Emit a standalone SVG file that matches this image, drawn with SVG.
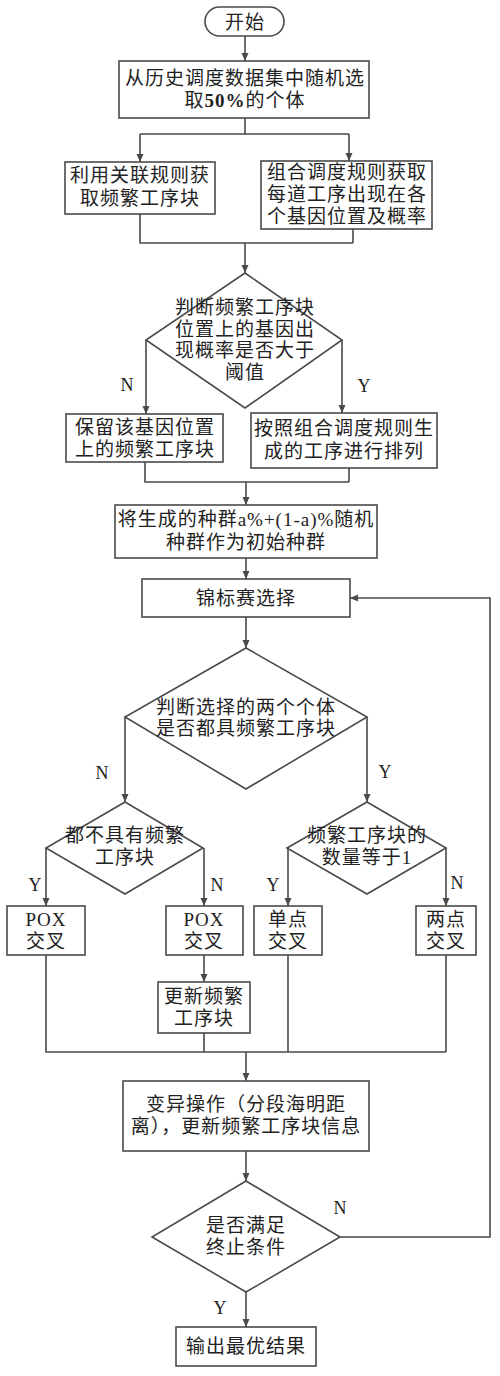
<svg xmlns="http://www.w3.org/2000/svg" width="500" height="1376" viewBox="0 0 500 1376">
<style>
.n{fill:#fff;stroke:#4a4a4a;stroke-width:1.6}
.c{fill:none;stroke:#4a4a4a;stroke-width:1.6}
.t{font-family:"Liberation Serif","Noto Sans CJK SC",serif;font-size:19px;letter-spacing:1px;fill:#222;text-anchor:middle;dominant-baseline:central}
.l{font-family:"Liberation Serif",serif;font-size:18px;fill:#222;text-anchor:middle;dominant-baseline:central}
</style>
<defs>
<marker id="a" markerUnits="userSpaceOnUse" markerWidth="9" markerHeight="8" refX="8" refY="4" orient="auto"><path d="M0,0.5 L8,4 L0,7.5 z" fill="#4a4a4a"/></marker>
</defs>
<rect width="500" height="1376" fill="#fff"/>
<g id="connectors">
<path class="c" d="M245,36 V61" marker-end="url(#a)"/>
<path class="c" d="M245,118 V134 M140,134 H349"/>
<path class="c" d="M140,134 V162" marker-end="url(#a)"/>
<path class="c" d="M349,134 V161" marker-end="url(#a)"/>
<path class="c" d="M140,214 V243 H353 M353,229 V243"/>
<path class="c" d="M245,243 V273" marker-end="url(#a)"/>
<path class="c" d="M146,340 V414" marker-end="url(#a)"/>
<path class="c" d="M342,340 V413" marker-end="url(#a)"/>
<path class="c" d="M145,462 V482 H349 M349,468 V482"/>
<path class="c" d="M246,482 V505" marker-end="url(#a)"/>
<path class="c" d="M246,558 V579" marker-end="url(#a)"/>
<path class="c" d="M246,617 V648" marker-end="url(#a)"/>
<path class="c" d="M125,717 V802" marker-end="url(#a)"/>
<path class="c" d="M367,717 V802" marker-end="url(#a)"/>
<path class="c" d="M46,848 V906" marker-end="url(#a)"/>
<path class="c" d="M204,848 V906" marker-end="url(#a)"/>
<path class="c" d="M288,848 V906" marker-end="url(#a)"/>
<path class="c" d="M446,848 V906" marker-end="url(#a)"/>
<path class="c" d="M204,955 V982" marker-end="url(#a)"/>
<path class="c" d="M46,955 V1052 H446 M204,1033 V1052 M288,955 V1052 M446,955 V1052"/>
<path class="c" d="M246,1052 V1081" marker-end="url(#a)"/>
<path class="c" d="M246,1151 V1181" marker-end="url(#a)"/>
<path class="c" d="M340,1237 H490 V598 H350" marker-end="url(#a)"/>
<path class="c" d="M246,1292 V1327" marker-end="url(#a)"/>
<text class="l" x="127" y="385">N</text>
<text class="l" x="364" y="386">Y</text>
<text class="l" x="102" y="773">N</text>
<text class="l" x="385" y="772">Y</text>
<text class="l" x="35" y="885">Y</text>
<text class="l" x="217" y="885">N</text>
<text class="l" x="273" y="885">Y</text>
<text class="l" x="457" y="883">N</text>
<text class="l" x="340" y="1208">N</text>
<text class="l" x="220" y="1308">Y</text>
</g>
<g id="start"><rect class="n" x="205" y="7" width="79" height="29" rx="14.5"/><text class="t" x="245" y="22">开始</text></g>
<g id="sample"><rect class="n" x="119" y="61" width="250" height="57"/><text class="t" x="245" y="78">从历史调度数据集中随机选</text><text class="t" x="245" y="100">取<tspan font-weight="bold">50%</tspan>的个体</text></g>
<g id="assoc"><rect class="n" x="65" y="162" width="150" height="52"/><text class="t" x="140" y="175">利用关联规则获</text><text class="t" x="140" y="198">取频繁工序块</text></g>
<g id="combo"><rect class="n" x="261" y="161" width="171" height="68"/><text class="t" x="347" y="172">组合调度规则获取</text><text class="t" x="347" y="194">每道工序出现在各</text><text class="t" x="347" y="216">个基因位置及概率</text></g>
<g id="judge1"><polygon class="n" points="245,273 342,340 245,408 146,340"/><text class="t" x="245" y="307">判断频繁工序块</text><text class="t" x="245" y="329">位置上的基因出</text><text class="t" x="245" y="350">现概率是否大于</text><text class="t" x="245" y="372">阈值</text></g>
<g id="keep"><rect class="n" x="66" y="414" width="157" height="48"/><text class="t" x="145" y="427">保留该基因位置</text><text class="t" x="145" y="449">上的频繁工序块</text></g>
<g id="arrange"><rect class="n" x="251" y="413" width="186" height="55"/><text class="t" x="344" y="428">按照组合调度规则生</text><text class="t" x="344" y="451">成的工序进行排列</text></g>
<g id="init"><rect class="n" x="115" y="505" width="262" height="53"/><text class="t" x="246" y="519">将生成的种群a%+(1-a)%随机</text><text class="t" x="246" y="542">种群作为初始种群</text></g>
<g id="tourn"><rect class="n" x="142" y="579" width="208" height="38"/><text class="t" x="246" y="598">锦标赛选择</text></g>
<g id="judge2"><polygon class="n" points="246,648 367,717 246,789 125,717"/><text class="t" x="246" y="707">判断选择的两个个体</text><text class="t" x="246" y="728">是否都具频繁工序块</text></g>
<g id="judge3"><polygon class="n" points="125,802 203,848 125,894 46,848"/><text class="t" x="125" y="835">都不具有频繁</text><text class="t" x="125" y="857">工序块</text></g>
<g id="judge4"><polygon class="n" points="367,802 446,848 367,894 287,848"/><text class="t" x="367" y="835">频繁工序块的</text><text class="t" x="367" y="857">数量等于1</text></g>
<g id="pox1"><rect class="n" x="7" y="906" width="78" height="49"/><text class="t" x="46" y="919">POX</text><text class="t" x="46" y="941">交叉</text></g>
<g id="pox2"><rect class="n" x="166" y="906" width="77" height="49"/><text class="t" x="204" y="919">POX</text><text class="t" x="204" y="941">交叉</text></g>
<g id="single"><rect class="n" x="254" y="906" width="68" height="49"/><text class="t" x="288" y="919">单点</text><text class="t" x="288" y="941">交叉</text></g>
<g id="double"><rect class="n" x="416" y="906" width="60" height="49"/><text class="t" x="446" y="919">两点</text><text class="t" x="446" y="941">交叉</text></g>
<g id="update"><rect class="n" x="158" y="982" width="92" height="51"/><text class="t" x="204" y="996">更新频繁</text><text class="t" x="204" y="1018">工序块</text></g>
<g id="mutate"><rect class="n" x="123" y="1081" width="246" height="70"/><text class="t" x="246" y="1104">变异操作（分段海明距</text><text class="t" x="246" y="1126">离），更新频繁工序块信息</text></g>
<g id="judge5"><polygon class="n" points="246,1181 340,1237 246,1292 152,1237"/><text class="t" x="246" y="1225">是否满足</text><text class="t" x="246" y="1247">终止条件</text></g>
<g id="output"><rect class="n" x="176" y="1327" width="140" height="39"/><text class="t" x="246" y="1346">输出最优结果</text></g>
</svg>
